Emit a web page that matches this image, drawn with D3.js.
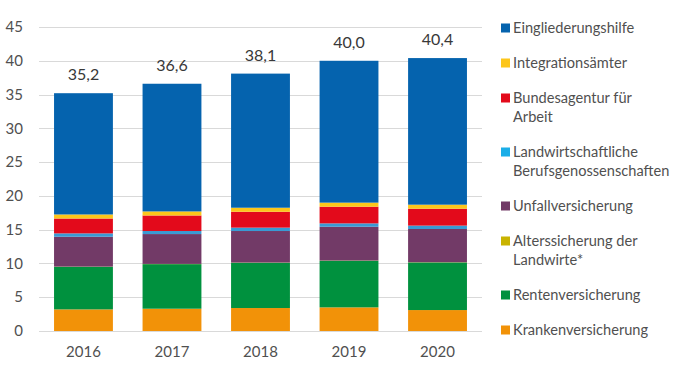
<!DOCTYPE html>
<html>
<head>
<meta charset="utf-8">
<script src="https://cdn.jsdelivr.net/npm/d3@7"></script>
<style>
  body { margin: 0; background: #fff; }
  #chart text { font-family: Lato, "Open Sans", sans-serif; }
</style>
</head>
<body>
<div id="chart"></div>
<script>
// Jahre und Werte (Mrd. Euro), gestapelt von unten nach oben
const years = ["2016", "2017", "2018", "2019", "2020"];
const totals = ["35,2", "36,6", "38,1", "40,0", "40,4"];

const kranken = [3.2, 3.3, 3.4, 3.5, 3.1];
const renten = [6.3, 6.6, 6.7, 6.9, 7.05];
const alterssicherung = [0.03, 0.03, 0.03, 0.03, 0.03];
const unfall = [4.42, 4.42, 4.67, 5.0, 4.92];
const landwBG = [0.5, 0.45, 0.5, 0.5, 0.5];
const bundesagentur = [2.2, 2.3, 2.35, 2.47, 2.5];
const integration = [0.6, 0.6, 0.6, 0.6, 0.6];
const eingliederung = [17.95, 18.9, 19.85, 21.0, 21.7];

const yTicks = [0, 5, 10, 15, 20, 25, 30, 35, 40, 45];

// Reihen (Stapelreihenfolge) und Legende (von oben nach unten)
const seriesKeys = ["kranken", "renten", "alters", "unfall", "lbg", "ba", "integ", "eingl"];
const seriesValues = {
    kranken: kranken, renten: renten, alters: alterssicherung, unfall: unfall,
    lbg: landwBG, ba: bundesagentur, integ: integration, eingl: eingliederung
};
const colors = {
    eingl: "#0563ae", integ: "#fdc61a", ba: "#e30a1b", lbg: "#3a9ad4",
    unfall: "#723a67", alters: "#c9b300", renten: "#00913e", kranken: "#f29208"
};
const legendColors = Object.assign({}, colors, { lbg: "#1baee8" });
const legendKeys = ["eingl", "integ", "ba", "lbg", "unfall", "alters", "renten", "kranken"];
const legendLabels = {
    eingl: ["Eingliederungshilfe"],
    integ: ["Integrationsämter"],
    ba: ["Bundesagentur für", "Arbeit"],
    lbg: ["Landwirtschaftliche", "Berufsgenossenschaften"],
    unfall: ["Unfallversicherung"],
    alters: ["Alterssicherung der", "Landwirte*"],
    renten: ["Rentenversicherung"],
    kranken: ["Krankenversicherung"]
};

const width = 675, height = 370;
const margin = { top: 27, right: 193, bottom: 39, left: 39 };

const rows = years.map((yr, i) => {
    const r = { year: yr };
    seriesKeys.forEach(k => r[k] = seriesValues[k][i]);
    return r;
});

const stacked = d3.stack().keys(seriesKeys)(rows);

const svg = d3.select("#chart")
    .append("svg")
    .attr("width", width)
    .attr("height", height);

const x = d3.scaleBand()
    .domain(years)
    .range([margin.left, width - margin.right])
    .paddingInner(0.335)
    .paddingOuter(0.17);

const y = d3.scaleLinear()
    .domain([0, 45])
    .range([height - margin.bottom, margin.top]);

// Gitterlinien
svg.append("g")
    .selectAll("line")
    .data(yTicks)
    .join("line")
    .attr("x1", margin.left)
    .attr("x2", width - margin.right)
    .attr("y1", d => Math.round(y(d)) + 0.5)
    .attr("y2", d => Math.round(y(d)) + 0.5)
    .attr("stroke", "#d9d9d9")
    .attr("stroke-width", 1);

// y-Achse
svg.append("g")
    .selectAll("text")
    .data(yTicks)
    .join("text")
    .attr("x", 23)
    .attr("y", d => y(d))
    .attr("dy", "0.35em")
    .attr("text-anchor", "end")
    .style("font-size", "15px")
    .style("fill", "#505050")
    .text(d => d);

// Balken
svg.append("g")
    .selectAll("g")
    .data(stacked)
    .join("g")
    .attr("fill", d => colors[d.key])
    .selectAll("rect")
    .data(d => d)
    .join("rect")
    .attr("x", d => x(d.data.year))
    .attr("y", d => y(d[1]))
    .attr("width", x.bandwidth())
    .attr("height", d => y(d[0]) - y(d[1]));

// Summen über den Balken
const topLayer = stacked[stacked.length - 1];
svg.append("g")
    .selectAll("text")
    .data(topLayer)
    .join("text")
    .attr("x", d => x(d.data.year) + x.bandwidth() / 2)
    .attr("y", d => y(d[1]) - 13)
    .attr("text-anchor", "middle")
    .style("font-size", "16px")
    .style("fill", "#383838")
    .text((d, i) => totals[i]);

// x-Achse
svg.append("g")
    .selectAll("text")
    .data(years)
    .join("text")
    .attr("x", d => x(d) + x.bandwidth() / 2)
    .attr("y", 352)
    .attr("dy", "0.35em")
    .attr("text-anchor", "middle")
    .style("font-size", "15px")
    .style("fill", "#505050")
    .text(d => d);

// Legende
const legend = svg.append("g").attr("transform", "translate(501,0)");
let ly = 28;
legendKeys.forEach(k => {
    const g = legend.append("g").attr("transform", `translate(0,${ly})`);
    g.append("rect")
        .attr("x", 0)
        .attr("y", -4.5)
        .attr("width", 9)
        .attr("height", 9)
        .attr("fill", legendColors[k]);
    g.append("text")
        .style("font-size", "14.6px")
        .style("fill", "#505050")
        .selectAll("tspan")
        .data(legendLabels[k])
        .join("tspan")
        .attr("x", 12)
        .attr("y", (d, i) => i * 19)
        .attr("dy", "0.35em")
        .text(d => d);
    ly += legendLabels[k].length * 19 + 16;
});
</script>
</body>
</html>
